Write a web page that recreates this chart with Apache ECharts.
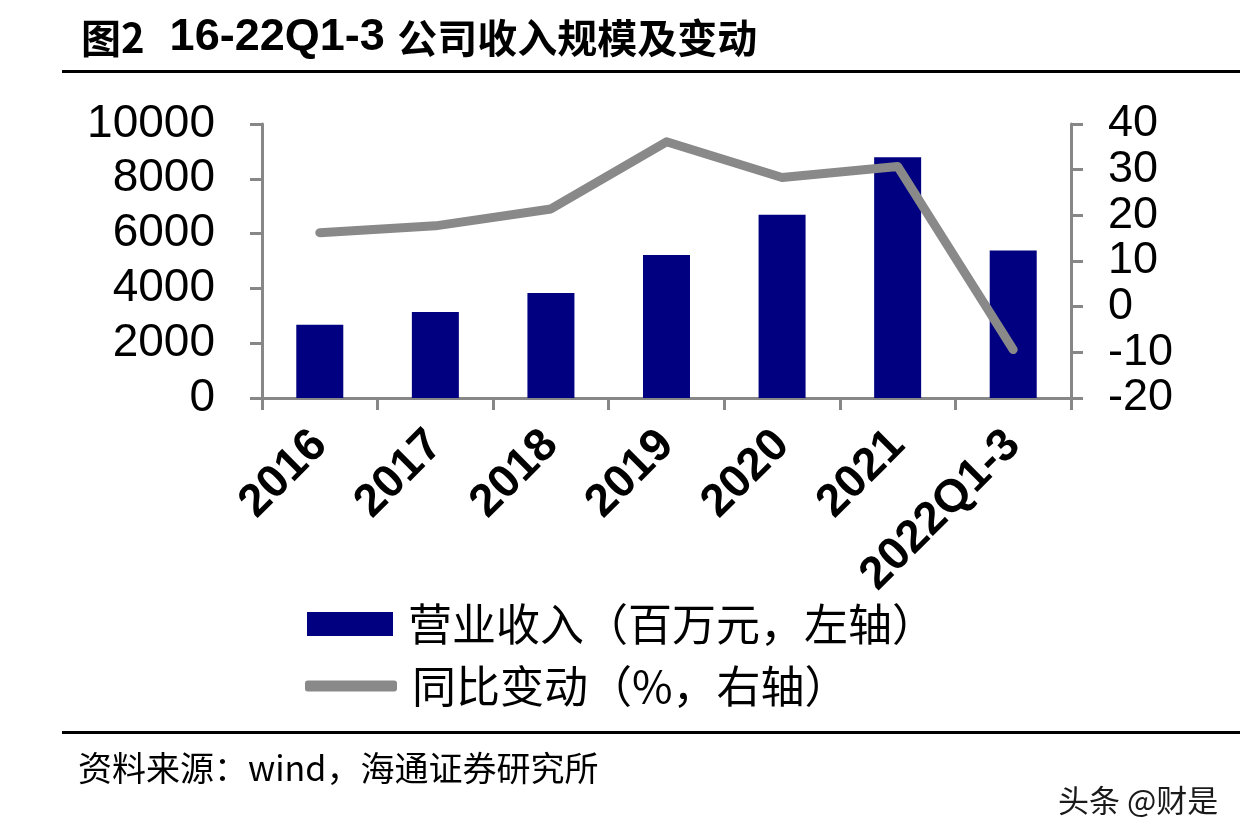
<!DOCTYPE html>
<html>
<head>
<meta charset="utf-8">
<script src="https://cdn.jsdelivr.net/npm/echarts@6/dist/echarts.min.js"></script>
<style>
html,body{margin:0;padding:0;background:#fff;}
#c{width:1248px;height:840px;}
</style>
</head>
<body>
<div id="c"></div>
<script>
const categories = ['2016','2017','2018','2019','2020','2021','2022Q1-3'];
const revenue = [2670, 3140, 3830, 5220, 6690, 8790, 5380];
const yoy = [16.2, 17.7, 21.4, 36.1, 28.3, 30.7, -9.4];
const leftTicks = {min: 0, max: 10000, interval: 2000};
const rightTicks = {min: -20, max: 40, interval: 10};
const revenueName = '营业收入（百万元，左轴）';
const yoyName = '同比变动（%，右轴）';

const chart = echarts.init(document.getElementById('c'));
const axisGray = '#878787';
const numFont = '"Liberation Sans", Arial, sans-serif';
const cjkFont = '"Noto Sans CJK SC", sans-serif';

chart.setOption({
  backgroundColor: '#ffffff',
  animation: false,
  title: {
    left: 76, top: 10,
    text: '{a|图2}{b|  16-22Q1-3 }{a|公司收入规模及变动}',
    textStyle: {
      rich: {
        a: {fontFamily: cjkFont, fontWeight: 'bold', fontSize: 40, color: '#000'},
        b: {fontFamily: numFont, fontWeight: 'bold', fontSize: 45, color: '#000'}
      }
    }
  },
  legend: [
    {
      data: [revenueName], left: 302, top: 597, orient: 'vertical',
      itemWidth: 86, itemHeight: 24, icon: 'rect', itemGap: 0,
      textStyle: {fontFamily: cjkFont, fontSize: 44, color: '#000', padding: [0,0,0,10]},
      selectedMode: false
    },
    {
      data: [{name: yoyName, icon: 'roundRect'}], left: 300, top: 659, orient: 'vertical',
      itemWidth: 92, itemHeight: 11, itemGap: 0,
      textStyle: {fontFamily: cjkFont, fontSize: 44, color: '#000', padding: [0,0,0,10]},
      itemStyle: {color: '#898989'},
      selectedMode: false
    }
  ],
  grid: {left: 262, right: 177, top: 124, bottom: 442, containLabel: false},
  xAxis: {
    type: 'category', data: categories, boundaryGap: true,
    axisLine: {lineStyle: {color: axisGray, width: 3}},
    axisTick: {show: true, alignWithLabel: false, length: 12, lineStyle: {color: axisGray, width: 3}},
    axisLabel: {rotate: 45, margin: 40, interval: 0, fontFamily: numFont, fontWeight: 'bold', fontSize: 46, color: '#000'}
  },
  yAxis: [
    {
      type: 'value', position: 'left', min: leftTicks.min, max: leftTicks.max, interval: leftTicks.interval,
      splitLine: {show: false},
      axisLine: {show: true, lineStyle: {color: axisGray, width: 3}},
      axisTick: {show: true, length: 12, lineStyle: {color: axisGray, width: 3}},
      axisLabel: {margin: 47, fontFamily: numFont, fontSize: 46, color: '#000', formatter: v => String(v)}
    },
    {
      type: 'value', position: 'right', min: rightTicks.min, max: rightTicks.max, interval: rightTicks.interval,
      splitLine: {show: false},
      axisLine: {show: true, lineStyle: {color: axisGray, width: 3}},
      axisTick: {show: true, length: 12, lineStyle: {color: axisGray, width: 3}},
      axisLabel: {margin: 37, fontFamily: numFont, fontSize: 45, color: '#000'}
    }
  ],
  series: [
    {
      name: revenueName, type: 'bar', data: revenue, yAxisIndex: 0,
      barWidth: 47, itemStyle: {color: '#000080'}
    },
    {
      name: yoyName, type: 'line', data: yoy, yAxisIndex: 1,
      showSymbol: false, symbol: 'none',
      lineStyle: {color: '#898989', width: 9, cap: 'round', join: 'round'},
      itemStyle: {color: '#898989'}
    }
  ],
  graphic: [
    {type: 'rect', shape: {x: 62, y: 70, width: 1178, height: 3}, style: {fill: '#000'}},
    {type: 'rect', shape: {x: 62, y: 731, width: 1178, height: 3}, style: {fill: '#000'}},
    {type: 'text', x: 78, y: 768, style: {text: '资料来源：wind，海通证券研究所', font: '34px "Noto Sans CJK SC", sans-serif', fill: '#000', verticalAlign: 'middle'}},
    {type: 'text', x: 1058, y: 800, style: {text: '头条 @财是', font: '31px "Noto Sans CJK SC", sans-serif', fill: '#1a1a1a', verticalAlign: 'middle'}}
  ]
});
</script>
</body>
</html>
